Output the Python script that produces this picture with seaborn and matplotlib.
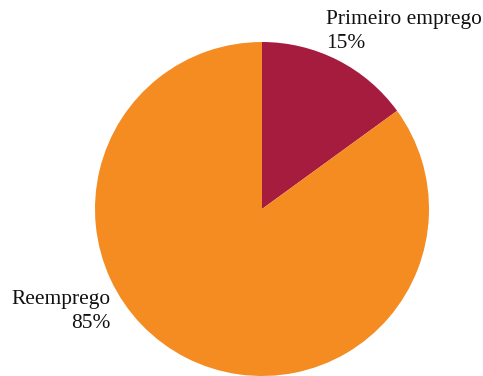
import matplotlib
matplotlib.use("Agg")
import matplotlib.pyplot as plt
import seaborn as sns

categories = ["Primeiro emprego", "Reemprego"]
values = [15, 85]
colors = ["#A51C3E", "#F48C22"]

sns.set_theme(style="white")
plt.rcParams['font.family'] = ['Liberation Serif', 'DejaVu Serif']

W, H = 483, 376
fig = plt.figure(figsize=(W/100, H/100), dpi=100)
cx, cy, r = 262, 209, 167
ax = fig.add_axes([(cx - r)/W, (H - cy - r)/H, 2*r/W, 2*r/H])
ax.pie(values, colors=colors, startangle=90, counterclock=False,
       radius=1, wedgeprops=dict(linewidth=0))
ax.set_xlim(-1, 1)
ax.set_ylim(-1, 1)
ax.set_aspect('equal')
ax.axis('off')

fig.text(326/W, 1 - 10/H, f"{categories[0]}\n{values[0]}%", ha='left', va='top',
         fontsize=15.4, linespacing=1.38, color='#111111')
fig.text(111/W, 1 - 290/H, f"{categories[1]}\n{values[1]}%", ha='right', va='top',
         fontsize=15.4, linespacing=1.38, color='#111111', multialignment='right')

fig.savefig("out.png", dpi=100)
